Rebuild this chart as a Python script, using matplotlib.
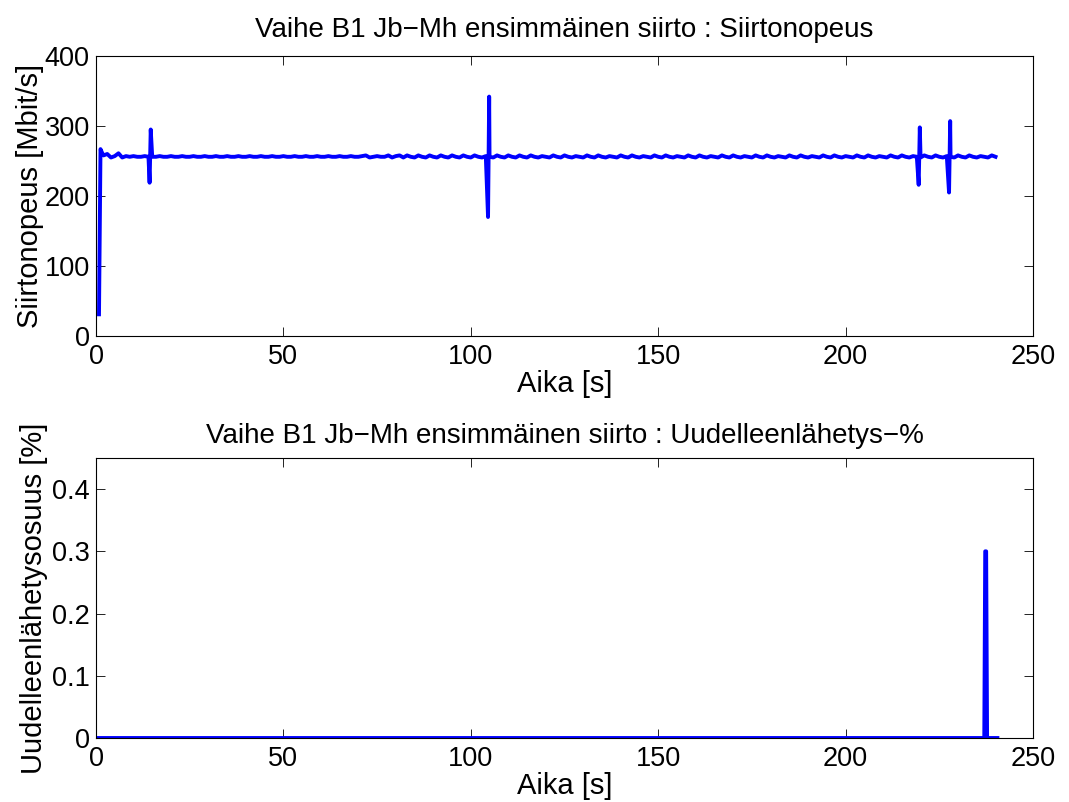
import numpy as np
import matplotlib.pyplot as plt

plt.rcParams['font.family'] = ['Liberation Sans', 'DejaVu Sans']
plt.rcParams['font.size'] = 19.5

# throughput samples (Mbit/s), one per second from t = 2 s
rate_start_t = [0.8, 1.2, 1.6]
rate_start_v = [31, 267, 262]
rate_v = [
    258, 260, 255, 257, 261, 255, 257, 256, 257, 256,
    256, 257, 256, 256, 256, 257, 256, 256, 257, 256,
    256, 257, 256, 256, 257, 256, 256, 257, 256, 256,
    257, 256, 256, 257, 256, 256, 257, 256, 256, 257,
    256, 256, 257, 256, 256, 257, 256, 256, 257, 256,
    256, 257, 256, 256, 257, 256, 256, 257, 256, 256,
    257, 256, 256, 257, 256, 256, 257, 256, 256, 257,
    258, 255, 256, 257, 256, 256, 258, 255, 257, 258,
    255, 258, 256, 255, 258, 256, 255, 258, 256, 255,
    258, 256, 255, 258, 256, 255, 258, 256, 255, 258,
    256, 255, 257, 256, 255, 258, 256, 255, 258, 256,
    255, 258, 256, 255, 258, 256, 255, 257, 256, 255,
    258, 256, 255, 258, 256, 255, 257, 256, 255, 258,
    256, 255, 258, 256, 255, 257, 256, 255, 258, 256,
    255, 258, 256, 255, 257, 256, 255, 258, 256, 255,
    258, 256, 255, 257, 256, 255, 258, 256, 255, 258,
    256, 255, 257, 256, 255, 258, 256, 255, 258, 256,
    255, 257, 256, 255, 258, 256, 255, 258, 256, 255,
    257, 256, 255, 258, 256, 255, 258, 256, 255, 257,
    256, 255, 258, 256, 255, 258, 256, 255, 257, 256,
    255, 258, 256, 255, 258, 256, 255, 257, 256, 255,
    258, 256, 255, 258, 256, 255, 257, 256, 255, 258,
    256, 255, 258, 256, 255, 257, 256, 255, 258, 256,
    255, 258, 256, 255, 257, 256, 255, 258, 256,
]
spike_t = [14.3, 14.6, 104.6, 104.9, 219.5, 219.8, 227.6, 227.9]
spike_v = [219, 295, 170, 342, 216, 298, 205, 307]

# retransmission share (%)
retr_t = [0, 237.0, 237.25, 237.5, 237.75, 240.5]
retr_v = [0, 0, 0.3, 0.3, 0, 0]

rate_t = list(np.arange(2, 2 + len(rate_v)))
pts = sorted(zip(rate_start_t + rate_t + spike_t, rate_start_v + rate_v + spike_v))
t_all = [p[0] for p in pts]
v_all = [p[1] for p in pts]

fig = plt.figure(figsize=(10.69, 8.02), dpi=100)
ax1 = fig.add_axes([96 / 1069, 1 - 336 / 802, 937 / 1069, 280 / 802])
ax2 = fig.add_axes([96 / 1069, 1 - 738 / 802, 937 / 1069, 280 / 802])

lab = 21
ttl = 20

ax1.plot(t_all, v_all, color='#0000ff', lw=2.8)
ax1.set_xlim(0, 250)
ax1.set_ylim(0, 400)
ax1.set_xticks(range(0, 251, 50))
ax1.set_yticks(range(0, 401, 100))
ax1.set_xlabel('Aika [s]', labelpad=0, fontsize=lab)
ax1.set_ylabel('Siirtonopeus [Mbit/s]', labelpad=0, fontsize=lab)
ax1.set_title('Vaihe B1 Jb\u2212Mh ensimmäinen siirto : Siirtonopeus', pad=14, fontsize=ttl)

ax2.plot(retr_t, retr_v, color='#0000ff', lw=2.8)
ax2.set_xlim(0, 250)
ax2.set_ylim(0, 0.45)
ax2.set_xticks(range(0, 251, 50))
ax2.set_yticks([0, 0.1, 0.2, 0.3, 0.4])
ax2.set_yticklabels(['0', '0.1', '0.2', '0.3', '0.4'])
ax2.set_xlabel('Aika [s]', labelpad=0, fontsize=lab)
ax2.set_ylabel('Uudelleenlähetysosuus [%]', labelpad=3, fontsize=lab)
ax2.set_title('Vaihe B1 Jb\u2212Mh ensimmäinen siirto : Uudelleenlähetys\u2212%', pad=11, fontsize=ttl)

for ax in (ax1, ax2):
    ax.tick_params(direction='in', top=True, right=True, length=6.5, width=0.6)
    ax.tick_params(axis='x', pad=6)
    ax.tick_params(axis='y', pad=4.5)
    for s in ax.spines.values():
        s.set_linewidth(0.8)

fig.savefig('out.png', dpi=100)
